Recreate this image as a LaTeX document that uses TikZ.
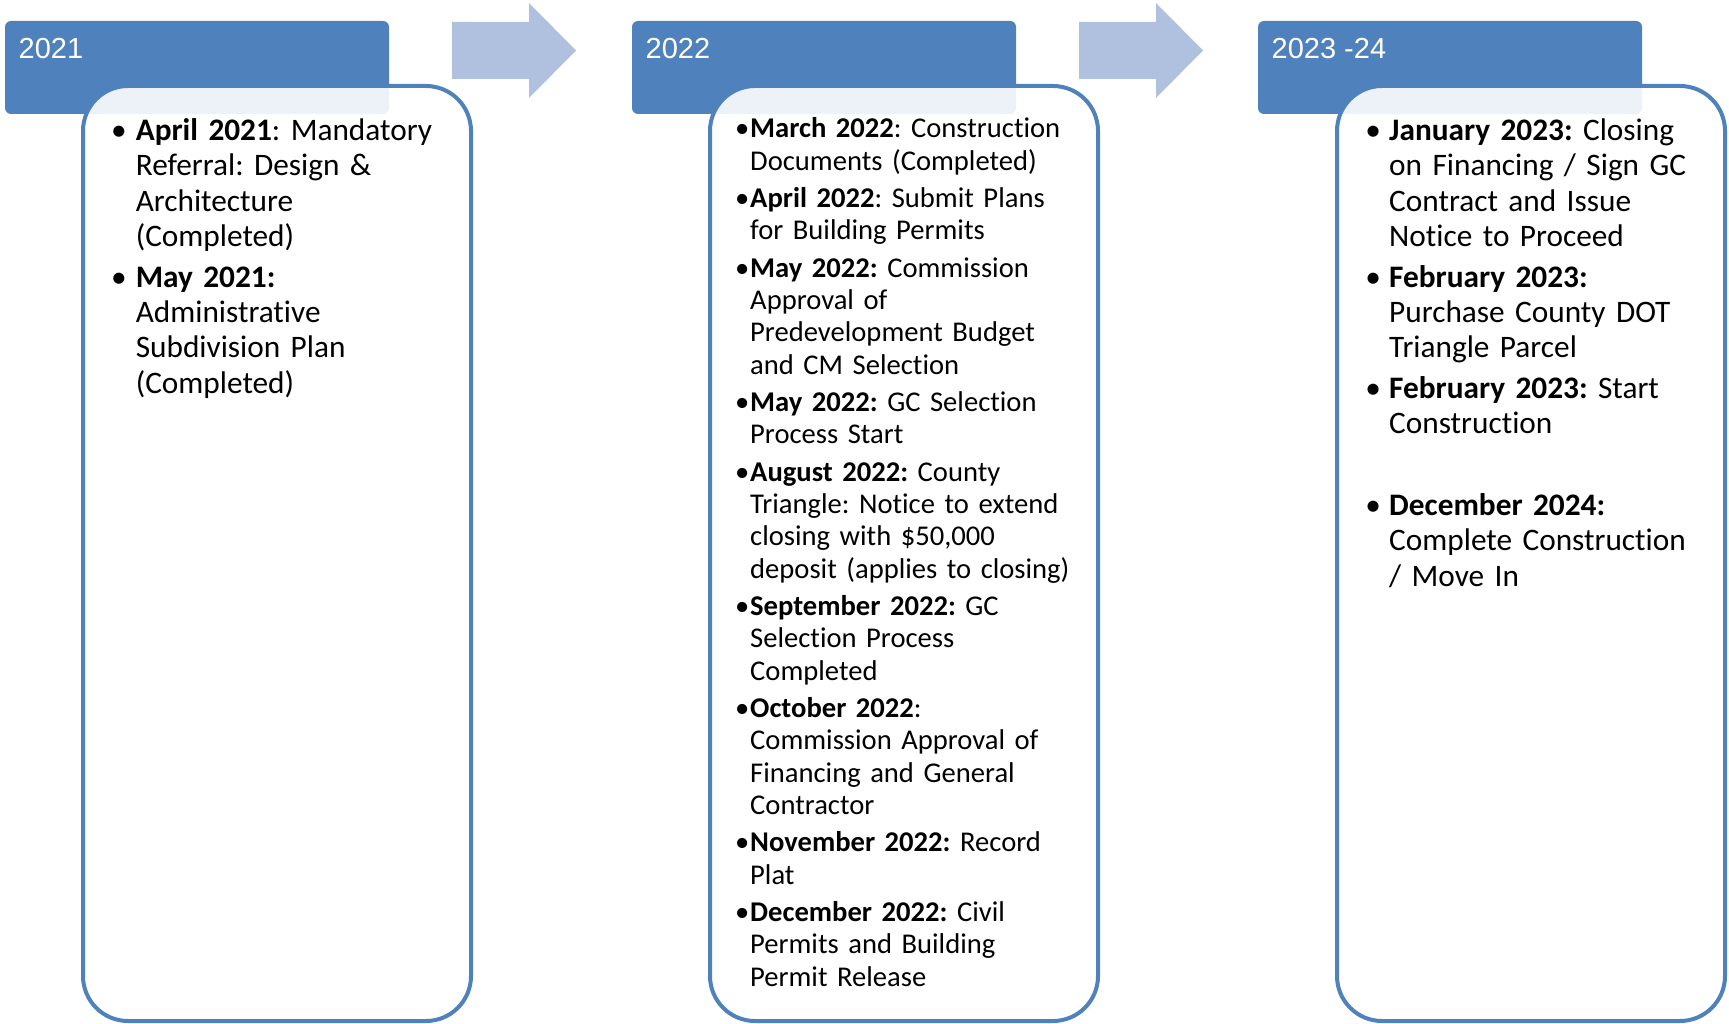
\documentclass[tikz,border=0pt]{standalone}
\usepackage{fontspec}
\setmainfont{Carlito}[Ligatures=NoCommon]
\newfontfamily\yearfont{Liberation Sans}
\definecolor{accent}{HTML}{4F81BD}
\definecolor{arrowfill}{HTML}{AFC1DE}
\frenchspacing

% one bulleted entry: space above, bullet slot width, strut height, text
\newcommand{\entry}[4]{\par\vspace{#1}\noindent\llap{\makebox[#2][c]{\textbullet}}\rule{0pt}{#3}#4}

\begin{document}
\begin{tikzpicture}[x=1pt,y=-1pt,
  hdr/.style={fill=accent, draw=none, rounded corners=6pt, minimum width=384pt,
    minimum height=93pt, anchor=north west, inner sep=0pt, outer sep=0pt},
  yearlabel/.style={text=white, font=\yearfont\fontsize{29}{34}\selectfont,
    anchor=base west, inner sep=0pt},
  panel/.style={draw=accent, line width=4pt, fill=white, fill opacity=0.9,
    rounded corners=45pt, minimum width=388pt, minimum height=935pt,
    anchor=north west, inner sep=0pt, outer sep=0pt},
  stepshape/.style={fill=arrowfill, draw=none},
  bigtext/.style={font=\fontsize{31.3}{35.3}\selectfont, text width=333pt,
    align=left, anchor=north west, inner sep=0pt},
  smalltext/.style={font=\fontsize{28.6}{32.4}\selectfont, text width=345pt,
    align=left, anchor=north west, inner sep=0pt}
]
\useasboundingbox (0,0) rectangle (1729,1024);

% year headers
\node[hdr] (h1) at (5,21) {};
\node[hdr] (h2) at (632,21) {};
\node[hdr] (h3) at (1258,21) {};
\node[yearlabel] (y1) at (18.5,59) {2021};
\node[yearlabel] (y2) at (645.5,59) {2022};
\node[yearlabel] (y3) at (1271.5,59) {2023 -24};

% block arrows between the years
\fill[stepshape] (452,22) -- (529,22) -- (529,3) -- (576,50.5) -- (529,98) -- (529,79) -- (452,79) -- cycle;
\begin{scope}[xshift=627pt]
\fill[stepshape] (452,22) -- (529,22) -- (529,3) -- (576,50.5) -- (529,98) -- (529,79) -- (452,79) -- cycle;
\end{scope}

% milestone panels
\node[panel] (p1) at (83,86) {};
\node[panel] (p2) at (710,86) {};
\node[panel] (p3) at (1337,86) {};

% 2021 milestones
\node[bigtext] (t1) at (135.6,105) {\setlength{\parindent}{0pt}%
\entry{0pt}{34pt}{25pt}{\textbf{April 2021}: Mandatory\\ Referral: Design \&\\ Architecture\\ (Completed)}%
\entry{5.5pt}{34pt}{25pt}{\textbf{May 2021:}\\ Administrative\\ Subdivision Plan\\ (Completed)}};

% 2022 milestones
\node[smalltext] (t2) at (750,105.3) {\setlength{\parindent}{0pt}%
\entry{0pt}{16pt}{23pt}{\textbf{March 2022}: Construction\\ Documents (Completed)}%
\entry{4.8pt}{16pt}{23pt}{\textbf{April 2022}: Submit Plans\\ for Building Permits}%
\entry{4.8pt}{16pt}{23pt}{\textbf{May 2022:} Commission\\ Approval of\\ Predevelopment Budget\\ and CM Selection}%
\entry{4.8pt}{16pt}{23pt}{\textbf{May 2022:} GC Selection\\ Process Start}%
\entry{4.8pt}{16pt}{23pt}{\textbf{August 2022:} County\\ Triangle: Notice to extend\\ closing with \$50,000\\ deposit (applies to closing)}%
\entry{4.8pt}{16pt}{23pt}{\textbf{September 2022:} GC\\ Selection Process\\ Completed}%
\entry{4.8pt}{16pt}{23pt}{\textbf{October 2022}:\\ Commission Approval of\\ Financing and General\\ Contractor}%
\entry{4.8pt}{16pt}{23pt}{\textbf{November 2022:} Record\\ Plat}%
\entry{4.8pt}{16pt}{23pt}{\textbf{December 2022:} Civil\\ Permits and Building\\ Permit Release}};

% 2023-24 milestones
\node[bigtext] (t3) at (1389,105) {\setlength{\parindent}{0pt}%
\entry{0pt}{32pt}{25pt}{\textbf{January 2023:} Closing\\ on Financing / Sign GC\\ Contract and Issue\\ Notice to Proceed}%
\entry{5.5pt}{32pt}{25pt}{\textbf{February 2023:}\\ Purchase County DOT\\ Triangle Parcel}%
\entry{5.5pt}{32pt}{25pt}{\textbf{February 2023:} Start\\ Construction}%
\entry{46.3pt}{32pt}{25pt}{\textbf{December 2024:}\\ Complete Construction\\ / Move In}};
\end{tikzpicture}
\end{document}
